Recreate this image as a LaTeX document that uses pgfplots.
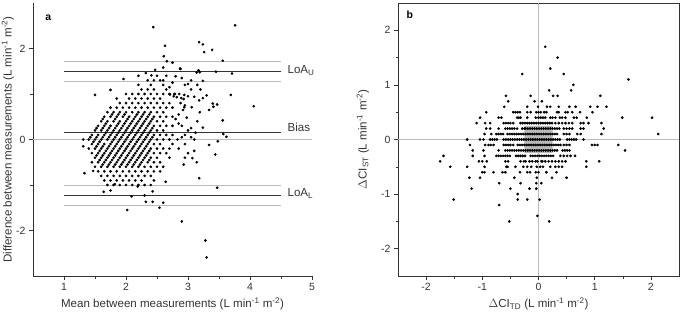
\documentclass[border=0pt]{standalone}
\usepackage{fontspec}
\setmainfont{Liberation Sans}
\usepackage{pgfplots}
\pgfplotsset{compat=1.18}
\definecolor{axcol}{HTML}{333333}
\definecolor{cigray}{HTML}{BBBBBB}
\pgfplotsset{
  myax/.style={
    scale only axis,
    axis line style={color=axcol, line width=0.8pt},
    tick style={color=axcol, line width=0.6pt},
    tick align=outside,
    major tick length=4bp,
    minor tick length=2.5bp,
    ticklabel style={font=\fontsize{10.5}{12}\selectfont, text=axcol},
    label style={font=\fontsize{11.6}{13}\selectfont, text=axcol},
    /pgf/number format/assume math mode=true,
    xtick pos=bottom, ytick pos=left,
  },
  pts/.style={only marks, mark=*, mark size=1.15pt, black, mark options={draw=black, fill=black}},
}
\begin{document}
\begin{tikzpicture}
\path[use as bounding box] (0,0) rectangle (680bp,314bp);
% ---------------- panel a ----------------
\begin{axis}[myax,
  at={(33bp,38bp)}, anchor=south west,
  width=279bp, height=273bp,
  axis lines*=left,
  xmin=0.5, xmax=5, ymin=-3, ymax=3,
  xtick={1,2,3,4,5}, minor xtick={1.5,2.5,3.5,4.5},
  ytick={-2,0,2}, minor ytick={-1,1},
  xlabel={Mean between measurements (L min\textsuperscript{-1} m\textsuperscript{-2})},
  ylabel={Difference between measurements (L min\textsuperscript{-1} m\textsuperscript{-2})},
  xlabel style={at={(axis description cs:0.5,-0.103)}, anchor=center},
  ylabel style={at={(axis description cs:-0.09,0.5)}, anchor=center},
  clip=false,
]
\addplot[cigray, line width=0.6pt] coordinates {(0.5,0) (5,0)};
\addplot[cigray, line width=0.7pt] coordinates {(1,1.71) (4.5,1.71)};
\addplot[cigray, line width=0.7pt] coordinates {(1,1.28) (4.5,1.28)};
\addplot[cigray, line width=0.7pt] coordinates {(1,-1.01) (4.5,-1.01)};
\addplot[cigray, line width=0.7pt] coordinates {(1,-1.45) (4.5,-1.45)};
\addplot[axcol, line width=0.8pt] coordinates {(1,1.50) (4.5,1.50)};
\addplot[axcol, line width=0.8pt] coordinates {(1,0.147) (4.5,0.147)};
\addplot[axcol, line width=0.8pt] coordinates {(1,-1.225) (4.5,-1.225)};
% stripes
\addplot[pts] coordinates {
(1.400,0.00)(1.425,0.05)(1.450,0.10)(1.500,0.20)(1.525,0.25)(1.550,0.30)(1.600,0.40)(1.625,0.45)(1.650,0.50)(1.700,0.60)(1.750,0.70)(1.850,0.90)
(1.400,-0.20)(1.450,-0.10)(1.475,-0.05)(1.500,0.00)(1.525,0.05)(1.550,0.10)(1.600,0.20)(1.625,0.25)(1.650,0.30)(1.675,0.35)(1.700,0.40)(1.750,0.50)(1.775,0.55)(1.800,0.60)(1.850,0.70)(1.900,0.80)(2.000,1.00)
(1.450,-0.30)(1.500,-0.20)(1.525,-0.15)(1.550,-0.10)(1.575,-0.05)(1.600,0.00)(1.625,0.05)(1.650,0.10)(1.675,0.15)(1.700,0.20)(1.725,0.25)(1.750,0.30)(1.800,0.40)(1.825,0.45)(1.850,0.50)(1.875,0.55)(1.900,0.60)(1.950,0.70)(2.000,0.80)(2.050,0.90)(2.100,1.00)(2.200,1.20)
(1.330,-0.74)(1.450,-0.50)(1.500,-0.40)(1.525,-0.35)(1.550,-0.30)(1.575,-0.25)(1.600,-0.20)(1.625,-0.15)(1.650,-0.10)(1.700,0.00)(1.725,0.05)(1.750,0.10)(1.775,0.15)(1.800,0.20)(1.825,0.25)(1.850,0.30)(1.875,0.35)(1.900,0.40)(1.950,0.50)(1.975,0.55)(2.000,0.60)(2.050,0.70)(2.100,0.80)(2.150,0.90)(2.200,1.00)(2.250,1.10)(2.350,1.30)
(1.500,-0.60)(1.550,-0.50)(1.575,-0.45)(1.600,-0.40)(1.625,-0.35)(1.650,-0.30)(1.675,-0.25)(1.700,-0.20)(1.725,-0.15)(1.750,-0.10)(1.775,-0.05)(1.800,0.00)(1.825,0.05)(1.850,0.10)(1.875,0.15)(1.900,0.20)(1.925,0.25)(1.950,0.30)(1.975,0.35)(2.000,0.40)(2.025,0.45)(2.050,0.50)(2.100,0.60)(2.150,0.70)(2.200,0.80)(2.250,0.90)(2.300,1.00)(2.350,1.10)(2.400,1.20)(2.450,1.30)(2.500,1.40)
(1.550,-0.70)(1.600,-0.60)(1.625,-0.55)(1.650,-0.50)(1.675,-0.45)(1.700,-0.40)(1.725,-0.35)(1.750,-0.30)(1.775,-0.25)(1.800,-0.20)(1.825,-0.15)(1.850,-0.10)(1.875,-0.05)(1.900,0.00)(1.925,0.05)(1.950,0.10)(1.975,0.15)(2.000,0.20)(2.025,0.25)(2.050,0.30)(2.075,0.35)(2.100,0.40)(2.125,0.45)(2.150,0.50)(2.175,0.55)(2.200,0.60)(2.250,0.70)(2.300,0.80)(2.350,0.90)(2.400,1.00)(2.450,1.10)(2.550,1.30)
(1.600,-0.80)(1.650,-0.70)(1.700,-0.60)(1.725,-0.55)(1.750,-0.50)(1.775,-0.45)(1.800,-0.40)(1.825,-0.35)(1.850,-0.30)(1.875,-0.25)(1.900,-0.20)(1.925,-0.15)(1.950,-0.10)(1.975,-0.05)(2.000,0.00)(2.025,0.05)(2.050,0.10)(2.075,0.15)(2.100,0.20)(2.125,0.25)(2.150,0.30)(2.175,0.35)(2.200,0.40)(2.225,0.45)(2.250,0.50)(2.275,0.55)(2.300,0.60)(2.350,0.70)(2.400,0.80)(2.450,0.90)(2.500,1.00)(2.600,1.20)
(1.650,-0.90)(1.700,-0.80)(1.750,-0.70)(1.800,-0.60)(1.825,-0.55)(1.850,-0.50)(1.875,-0.45)(1.900,-0.40)(1.925,-0.35)(1.950,-0.30)(1.975,-0.25)(2.000,-0.20)(2.025,-0.15)(2.050,-0.10)(2.075,-0.05)(2.100,0.00)(2.125,0.05)(2.150,0.10)(2.175,0.15)(2.200,0.20)(2.225,0.25)(2.250,0.30)(2.275,0.35)(2.300,0.40)(2.325,0.45)(2.350,0.50)(2.375,0.55)(2.400,0.60)(2.450,0.70)(2.500,0.80)(2.550,0.90)(2.600,1.00)(2.650,1.10)
(1.700,-1.00)(1.750,-0.90)(1.800,-0.80)(1.850,-0.70)(1.900,-0.60)(1.925,-0.55)(1.950,-0.50)(1.975,-0.45)(2.000,-0.40)(2.025,-0.35)(2.050,-0.30)(2.075,-0.25)(2.100,-0.20)(2.125,-0.15)(2.150,-0.10)(2.175,-0.05)(2.200,0.00)(2.225,0.05)(2.250,0.10)(2.275,0.15)(2.300,0.20)(2.325,0.25)(2.350,0.30)(2.375,0.35)(2.400,0.40)(2.425,0.45)(2.450,0.50)(2.500,0.60)(2.550,0.70)(2.600,0.80)(2.700,1.00)
(1.800,-1.00)(1.850,-0.90)(1.900,-0.80)(1.950,-0.70)(2.000,-0.60)(2.025,-0.55)(2.050,-0.50)(2.075,-0.45)(2.100,-0.40)(2.125,-0.35)(2.150,-0.30)(2.175,-0.25)(2.200,-0.20)(2.225,-0.15)(2.250,-0.10)(2.275,-0.05)(2.300,0.00)(2.325,0.05)(2.350,0.10)(2.375,0.15)(2.400,0.20)(2.425,0.25)(2.450,0.30)(2.500,0.40)(2.550,0.50)(2.600,0.60)(2.650,0.70)(2.700,0.80)
(1.900,-1.00)(1.950,-0.90)(2.000,-0.80)(2.050,-0.70)(2.100,-0.60)(2.125,-0.55)(2.150,-0.50)(2.175,-0.45)(2.200,-0.40)(2.225,-0.35)(2.250,-0.30)(2.275,-0.25)(2.300,-0.20)(2.325,-0.15)(2.350,-0.10)(2.375,-0.05)(2.400,0.00)(2.425,0.05)(2.450,0.10)(2.500,0.20)(2.550,0.30)(2.600,0.40)(2.650,0.50)(2.750,0.70)
(2.000,-1.00)(2.050,-0.90)(2.100,-0.80)(2.150,-0.70)(2.200,-0.60)(2.225,-0.55)(2.250,-0.50)(2.275,-0.45)(2.300,-0.40)(2.325,-0.35)(2.350,-0.30)(2.375,-0.25)(2.400,-0.20)(2.450,-0.10)(2.500,0.00)(2.550,0.10)(2.600,0.20)(2.650,0.30)(2.750,0.50)
(2.100,-1.00)(2.150,-0.90)(2.200,-0.80)(2.250,-0.70)(2.300,-0.60)(2.350,-0.50)(2.375,-0.45)(2.400,-0.40)(2.450,-0.30)(2.500,-0.20)(2.550,-0.10)(2.600,0.00)(2.650,0.10)(2.750,0.30)
(2.200,-1.00)(2.250,-0.90)(2.300,-0.80)(2.350,-0.70)(2.400,-0.60)(2.450,-0.50)(2.500,-0.40)(2.550,-0.30)(2.600,-0.20)(2.700,0.00)(2.750,0.10)
(2.300,-1.00)(2.400,-0.80)(2.450,-0.70)(2.500,-0.60)(2.550,-0.50)(2.650,-0.30)(2.700,-0.20)(2.750,-0.10)
(2.400,-1.00)(2.450,-0.90)(2.550,-0.70)(2.600,-0.60)(2.700,-0.40)
};
% scattered points
\addplot[pts] coordinates {
(1.31,0.00)(1.31,-0.15)(1.47,-0.69)(1.64,-1.15)(1.75,-1.12)(2.09,-1.25)(2.30,-1.23)(2.43,-1.14)(2.32,-1.37)(2.43,-1.37)(2.60,-1.39)(2.54,-1.50)(2.02,-1.55)(2.90,-1.80)(3.28,-2.22)(3.30,-2.59)(3.47,-1.06)(3.18,-0.85)(3.44,-0.33)(2.93,-0.55)(3.14,-0.50)(3.07,-0.41)(3.00,-0.30)(2.19,-1.03)(2.64,-0.93)(1.82,-0.98)
(2.44,2.47)(3.76,2.51)(2.63,2.06)(3.18,2.14)(3.24,2.09)(3.26,1.92)(3.39,1.97)(2.61,1.83)(2.66,1.72)(2.75,1.69)(3.56,1.73)(2.88,1.55)(3.17,1.52)(3.19,1.48)(3.45,1.49)(3.71,1.45)(2.47,1.53)(2.32,1.46)(2.41,1.41)(3.24,1.29)(1.96,1.33)(2.20,1.40)(1.75,1.09)(1.50,0.98)(3.69,0.98)(4.06,0.73)(3.56,0.42)(3.57,0.12)(3.62,0.06)(3.48,-0.04)(3.34,-0.12)(3.24,0.26)(3.19,0.60)(3.34,0.65)(3.41,0.72)(3.47,0.77)(3.18,0.86)(3.24,0.91)(3.30,0.97)(2.92,0.65)(3.06,0.71)(2.98,0.48)(2.93,0.89)(2.82,0.93)(2.89,0.91)(2.79,1.00)(2.86,1.00)(2.94,0.98)(3.00,0.95)(3.10,0.94)(2.71,0.99)(2.77,0.95)(3.05,0.25)(3.10,0.00)(3.05,0.05)(2.83,0.00)(2.90,0.05)(2.95,0.10)
(2.85,0.35)(2.90,0.30)(3.00,0.20)(2.95,-0.10)(2.85,-0.20)(3.10,-0.25)(2.95,-0.40)(2.80,0.45)(2.85,0.55)(3.15,0.40)(3.12,0.15)(2.95,0.75)(2.88,0.80)(3.05,1.10)(2.95,1.20)(2.70,1.15)(2.75,1.25)(2.90,1.35)(2.60,1.30)(2.65,1.40)(3.05,1.30)(3.15,1.20)(3.20,1.10)(2.60,1.58)(2.87,1.56)(3.14,1.47)(2.80,1.39)(3.00,1.22)(2.78,1.00)(2.94,0.71)(3.40,0.79)
};
\node[anchor=west, font=\fontsize{11.6}{13}\selectfont, text=axcol] at (axis cs:4.55,1.51) {LoA\textsubscript{U}};
\node[anchor=west, font=\fontsize{11.6}{13}\selectfont, text=axcol] at (axis cs:4.55,0.27) {Bias};
\node[anchor=west, font=\fontsize{11.6}{13}\selectfont, text=axcol] at (axis cs:4.55,-1.18) {LoA\textsubscript{L}};
\node[font=\bfseries\fontsize{10.5}{12}\selectfont] at (axis cs:0.745,2.68) {a};
\end{axis}
% ---------------- panel b ----------------
\begin{axis}[myax,
  at={(398bp,38bp)}, anchor=south west,
  width=281bp, height=273bp,
  xmin=-2.5, xmax=2.5, ymin=-2.5, ymax=2.5,
  xtick={-2,-1,0,1,2}, minor xtick={-1.5,-0.5,0.5,1.5},
  ytick={-2,-1,0,1,2}, minor ytick={-1.5,-0.5,0.5,1.5},
  xlabel={$\Delta$CI\textsubscript{TD} (L min\textsuperscript{-1} m\textsuperscript{-2})},
  ylabel={$\Delta$CI\textsubscript{ST} (L min\textsuperscript{-1} m\textsuperscript{-2})},
  xlabel style={at={(axis description cs:0.5,-0.103)}, anchor=center},
  ylabel style={at={(axis description cs:-0.125,0.5)}, anchor=center},
]
\addplot[cigray, line width=0.6pt] coordinates {(0,-2.5) (0,2.5)};
\addplot[cigray, line width=0.6pt] coordinates {(-2.5,0) (2.5,0)};
\addplot[fill=gray!55, draw=none] coordinates {(-0.25,-0.25) (0.25,-0.25) (0.25,0.25) (-0.25,0.25) (-0.25,-0.25)};
\addplot[pts] coordinates {
(0.12,1.7)(0.34,1.5)(0.21,1.3)(-0.29,1.2)(0.45,1.2)(1.60,1.1)(0.62,1.0)(0.19,0.9)(0.58,0.9)
(-0.58,0.8)(-0.14,0.8)(0.26,0.8)(0.34,0.8)(1.10,0.8)
(-0.54,0.7)(-0.07,0.7)(0.06,0.7)
(-0.61,0.6)(-0.20,0.6)(-0.01,0.6)(0.15,0.6)(0.21,0.6)(0.36,0.6)(0.55,0.6)(0.66,0.6)(0.92,0.6)(1.05,0.6)(1.21,0.6)
(-0.93,0.5)(-0.45,0.5)(-0.41,0.5)(-0.37,0.5)(-0.33,0.5)(-0.20,0.5)(-0.14,0.5)(-0.04,0.5)(0.00,0.5)(0.04,0.5)(0.10,0.5)(0.14,0.5)(0.33,0.5)(0.36,0.5)(0.48,0.5)(0.52,0.5)(0.60,0.5)(0.74,0.5)(0.96,0.5)
(-1.04,0.4)(-0.71,0.4)(-0.66,0.4)(-0.38,0.4)(-0.35,0.4)(-0.32,0.4)(-0.20,0.4)(-0.05,0.4)(0.00,0.4)(0.04,0.4)(0.08,0.4)(0.12,0.4)(0.21,0.4)(0.25,0.4)(0.30,0.4)(0.38,0.4)(0.42,0.4)(0.48,0.4)(0.63,0.4)(0.68,0.4)(0.86,0.4)(1.49,0.4)(2.02,0.4)
(-1.10,0.3)(-0.95,0.3)(-0.86,0.3)(-0.62,0.3)(-0.58,0.3)(-0.54,0.3)(-0.50,0.3)(-0.45,0.3)(-0.32,0.3)(-0.28,0.3)(-0.24,0.3)(-0.20,0.3)(-0.16,0.3)(-0.12,0.3)(-0.08,0.3)(-0.04,0.3)(0.00,0.3)(0.04,0.3)(0.08,0.3)(0.12,0.3)(0.16,0.3)(0.20,0.3)(0.24,0.3)(0.30,0.3)(0.36,0.3)(0.42,0.3)(0.48,0.3)(0.54,0.3)(0.60,0.3)(0.75,0.3)(0.80,0.3)(0.89,0.3)(1.12,0.3)
(-0.93,0.2)(-0.86,0.2)(-0.71,0.2)(-0.59,0.2)(-0.55,0.2)(-0.51,0.2)(-0.47,0.2)(-0.43,0.2)(-0.38,0.2)(-0.29,0.2)(-0.25,0.2)(-0.23,0.2)(-0.19,0.2)(-0.15,0.2)(-0.11,0.2)(-0.07,0.2)(-0.03,0.2)(0.01,0.2)(0.05,0.2)(0.09,0.2)(0.13,0.2)(0.17,0.2)(0.21,0.2)(0.25,0.2)(0.29,0.2)(0.33,0.2)(0.37,0.2)(0.45,0.2)(0.50,0.2)(0.55,0.2)(0.60,0.2)(0.75,0.2)(0.80,0.2)(1.16,0.2)
(-0.96,0.1)(-0.84,0.1)(-0.75,0.1)(-0.71,0.1)(-0.67,0.1)(-0.63,0.1)(-0.55,0.1)(-0.51,0.1)(-0.47,0.1)(-0.43,0.1)(-0.39,0.1)(-0.35,0.1)(-0.31,0.1)(-0.27,0.1)(-0.23,0.1)(-0.19,0.1)(-0.15,0.1)(-0.11,0.1)(-0.07,0.1)(-0.03,0.1)(0.01,0.1)(0.05,0.1)(0.09,0.1)(0.13,0.1)(0.17,0.1)(0.21,0.1)(0.25,0.1)(0.29,0.1)(0.33,0.1)(0.45,0.1)(0.50,0.1)(0.55,0.1)(0.69,0.1)(0.75,0.1)(1.12,0.1)(2.13,0.1)
(-1.27,0.0)(-1.04,0.0)(-0.98,0.0)(-0.86,0.0)(-0.82,0.0)(-0.78,0.0)(-0.74,0.0)(-0.62,0.0)(-0.58,0.0)(-0.54,0.0)(-0.50,0.0)(-0.46,0.0)(-0.42,0.0)(-0.38,0.0)(-0.34,0.0)(-0.30,0.0)(-0.26,0.0)(-0.22,0.0)(-0.18,0.0)(-0.14,0.0)(-0.10,0.0)(-0.06,0.0)(-0.02,0.0)(0.02,0.0)(0.06,0.0)(0.10,0.0)(0.14,0.0)(0.18,0.0)(0.22,0.0)(0.26,0.0)(0.30,0.0)(0.34,0.0)(0.38,0.0)(0.51,0.0)(0.55,0.0)(0.59,0.0)(0.63,0.0)(0.67,0.0)(0.80,0.0)
(-1.22,-0.1)(-0.95,-0.1)(-0.89,-0.1)(-0.85,-0.1)(-0.80,-0.1)(-0.62,-0.1)(-0.58,-0.1)(-0.54,-0.1)(-0.50,-0.1)(-0.45,-0.1)(-0.37,-0.1)(-0.33,-0.1)(-0.29,-0.1)(-0.25,-0.1)(-0.21,-0.1)(-0.17,-0.1)(-0.13,-0.1)(-0.09,-0.1)(-0.05,-0.1)(-0.01,-0.1)(0.03,-0.1)(0.07,-0.1)(0.11,-0.1)(0.15,-0.1)(0.19,-0.1)(0.23,-0.1)(0.27,-0.1)(0.31,-0.1)(0.35,-0.1)(0.39,-0.1)(0.45,-0.1)(0.50,-0.1)(0.55,-0.1)(0.95,-0.1)(1.00,-0.1)(1.05,-0.1)(1.42,-0.1)
(-1.17,-0.2)(-0.98,-0.2)(-0.71,-0.2)(-0.59,-0.2)(-0.55,-0.2)(-0.51,-0.2)(-0.47,-0.2)(-0.43,-0.2)(-0.39,-0.2)(-0.35,-0.2)(-0.31,-0.2)(-0.27,-0.2)(-0.23,-0.2)(-0.19,-0.2)(-0.15,-0.2)(-0.11,-0.2)(-0.07,-0.2)(-0.03,-0.2)(0.01,-0.2)(0.05,-0.2)(0.09,-0.2)(0.13,-0.2)(0.17,-0.2)(0.21,-0.2)(0.25,-0.2)(0.29,-0.2)(0.33,-0.2)(0.43,-0.2)(0.47,-0.2)(0.51,-0.2)(0.55,-0.2)(1.54,-0.2)
(-1.69,-0.3)(-1.17,-0.3)(-0.96,-0.3)(-0.75,-0.3)(-0.71,-0.3)(-0.67,-0.3)(-0.63,-0.3)(-0.59,-0.3)(-0.55,-0.3)(-0.51,-0.3)(-0.40,-0.3)(-0.36,-0.3)(-0.32,-0.3)(-0.28,-0.3)(-0.24,-0.3)(-0.14,-0.3)(-0.10,-0.3)(-0.06,-0.3)(-0.02,-0.3)(0.02,-0.3)(0.06,-0.3)(0.10,-0.3)(0.14,-0.3)(0.18,-0.3)(0.22,-0.3)(0.26,-0.3)(0.39,-0.3)(0.45,-0.3)(0.51,-0.3)(0.57,-0.3)(0.65,-0.3)
(-1.75,-0.4)(-1.06,-0.4)(-1.00,-0.4)(-0.92,-0.4)(-0.59,-0.4)(-0.54,-0.4)(-0.32,-0.4)(-0.26,-0.4)(-0.23,-0.4)(-0.16,-0.4)(-0.11,-0.4)(-0.05,-0.4)(-0.02,-0.4)(0.05,-0.4)(0.07,-0.4)(0.12,-0.4)(0.18,-0.4)(0.24,-0.4)(0.30,-0.4)(0.36,-0.4)(0.42,-0.4)(0.48,-0.4)(0.85,-0.4)(1.08,-0.4)
(-1.57,-0.5)(-1.27,-0.5)(-0.96,-0.5)(-0.57,-0.5)(-0.55,-0.5)(-0.41,-0.5)(-0.27,-0.5)(-0.20,-0.5)(-0.13,-0.5)(-0.03,-0.5)(0.03,-0.5)(0.08,-0.5)(0.21,-0.5)(0.30,-0.5)(0.36,-0.5)(0.42,-0.5)(0.85,-0.5)
(-1.00,-0.6)(-0.96,-0.6)(-0.80,-0.6)(-0.64,-0.6)(-0.59,-0.6)(-0.33,-0.6)(-0.20,-0.6)(-0.15,-0.6)(-0.05,-0.6)(0.00,-0.6)(0.14,-0.6)(0.32,-0.6)
(-1.23,-0.7)(-1.04,-0.7)(-0.43,-0.7)(-0.03,-0.7)(0.24,-0.7)(0.50,-0.7)
(-0.70,-0.8)(-0.32,-0.8)(-0.04,-0.8)(0.05,-0.8)
(-1.19,-0.9)(-0.50,-0.9)(-0.16,-0.9)(-0.04,-0.9)
(-0.37,-1.0)
(-1.51,-1.1)(-0.37,-1.1)(-0.20,-1.1)(0.02,-1.1)
(-0.70,-1.2)(-0.02,-1.4)(-0.52,-1.5)(0.19,-1.5)
};
\node[font=\bfseries\fontsize{10.5}{12}\selectfont] at (axis cs:-2.29,2.28) {b};
\end{axis}
\end{tikzpicture}
\end{document}
